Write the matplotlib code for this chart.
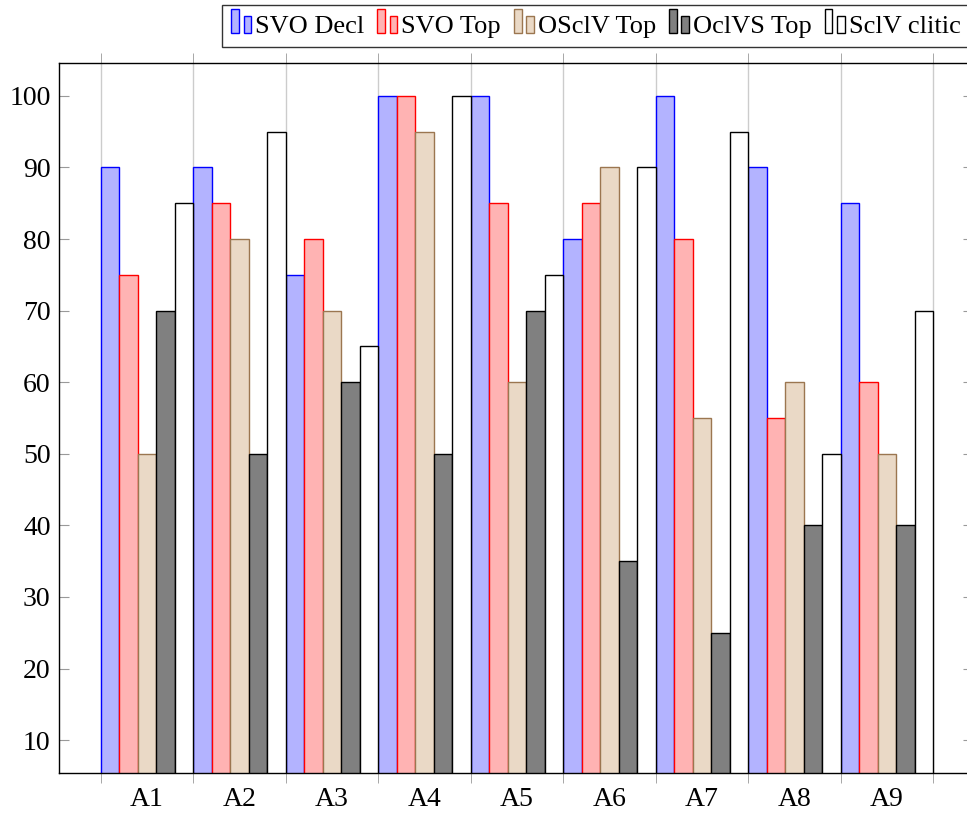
import numpy as np
import matplotlib.pyplot as plt
from matplotlib.patches import Rectangle
from matplotlib.legend_handler import HandlerBase

plt.rcParams['font.family'] = ['Liberation Serif', 'DejaVu Serif']

# judgements per item, one list per word order
items = ["A1", "A2", "A3", "A4", "A5", "A6", "A7", "A8", "A9"]
svo_decl = [90, 90, 75, 100, 100, 80, 100, 90, 85]
svo_top = [75, 85, 80, 100, 85, 85, 80, 55, 60]
osclv_top = [50, 80, 70, 95, 60, 90, 55, 60, 50]
oclvs_top = [70, 50, 60, 50, 70, 35, 25, 40, 40]
sclv_clitic = [85, 95, 65, 100, 75, 90, 95, 50, 70]

series = [
    ("SVO Decl", svo_decl, "#b3b3ff", "blue"),
    ("SVO Top", svo_top, "#ffb3b3", "red"),
    ("OSclV Top", osclv_top, "#ead9c6", "#9b7650"),
    ("OclVS Top", oclvs_top, "#808080", "black"),
    ("SclV clitic", sclv_clitic, "white", "black"),
]


class TwoBars(HandlerBase):
    # pgfplots style legend image: two little bars side by side
    def create_artists(self, legend, orig, xdescent, ydescent, width, height, fontsize, trans):
        fc = orig.get_facecolor()
        ec = orig.get_edgecolor()
        w = width * 0.38
        r1 = Rectangle((-xdescent, -ydescent), w, height * 1.3, facecolor=fc, edgecolor=ec, lw=1, transform=trans)
        r2 = Rectangle((-xdescent + width * 0.62, -ydescent), w, height * 0.9, facecolor=fc, edgecolor=ec, lw=1, transform=trans)
        return [r1, r2]


fig = plt.figure(figsize=(9.67, 8.18), dpi=100)
ax = fig.add_axes([59 / 967, 1 - 773 / 818, (973 - 59) / 967, (773 - 63) / 818])

x = np.arange(1, len(items) + 1)
bw = 0.2
handles = []
for k, (name, vals, fc, ec) in enumerate(series):
    bars = ax.bar(x + (k - 2) * bw, vals, bw, facecolor=fc, edgecolor=ec, linewidth=1, label=name, zorder=2)
    handles.append(bars.patches[0])

ax.set_xlim(0.05, 9.93)
ax.set_ylim(5.4, 104.6)
ax.set_yticks(np.arange(10, 101, 10))
ax.set_xticks(x)
ax.set_xticklabels(items)
ax.set_xticks(np.arange(0.5, 10, 1), minor=True)
ax.tick_params(axis='x', which='major', length=0, labelsize=20, pad=10)
ax.tick_params(axis='x', which='minor', direction='out', length=7, color='#999999', top=True, bottom=True)
ax.tick_params(axis='y', direction='in', length=7, color='#999999', left=True, right=True, labelsize=20, pad=6)
ax.grid(True, axis='x', which='minor', color='#cccccc', linewidth=1, zorder=0)
for s in ax.spines.values():
    s.set_linewidth(1)

leg = fig.legend(handles, [s[0] for s in series], handler_map={Rectangle: TwoBars()},
                 loc='upper left', bbox_to_anchor=(222 / 967, 1 - 5 / 818), ncol=5,
                 fontsize=19, frameon=True, fancybox=False, edgecolor='black',
                 handlelength=0.75, handleheight=0.7, handletextpad=0.15, columnspacing=0.5,
                 borderpad=0.35, borderaxespad=0)
leg.get_frame().set_linewidth(1)

fig.savefig("out.png", dpi=100)
